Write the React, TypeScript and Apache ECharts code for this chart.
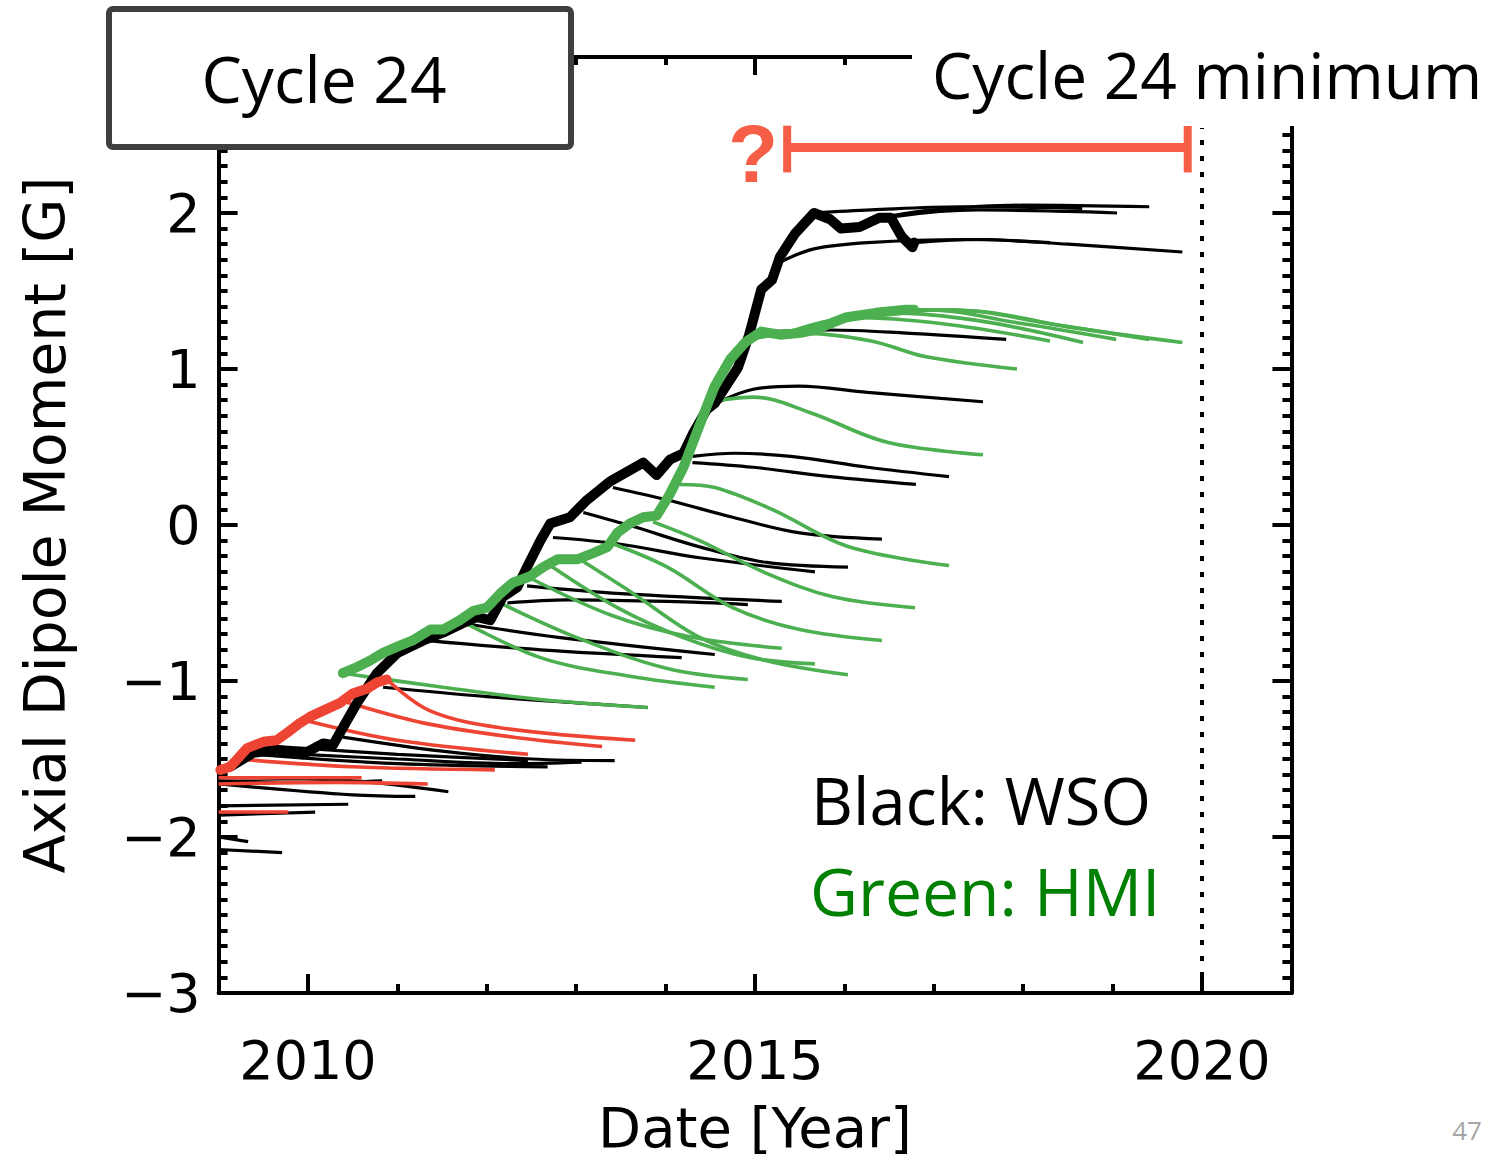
import { useEffect, useRef } from "react";
import * as echarts from "echarts";

// ---- axis ticks / labels ----
const X_MIN = 2009;
const X_MAX = 2021;
const Y_MIN = -3;
const Y_MAX = 3;
const xMajorTicks = [2010, 2015, 2020];
const xMinorTicks = [2010, 2011, 2012, 2013, 2014, 2015, 2016, 2017, 2018, 2019, 2020];

// ---- observed axial dipole moment (thick curves) ----
const wsoObserved: number[][] = [
  [2009.13, -1.55], [2009.39, -1.46], [2009.65, -1.44], [2009.94, -1.47], [2010.17, -1.40],
  [2010.28, -1.41], [2010.39, -1.30], [2010.55, -1.14], [2010.77, -0.95], [2011.0, -0.82],
  [2011.29, -0.74], [2011.51, -0.69], [2011.73, -0.63], [2011.89, -0.59], [2012.04, -0.61],
  [2012.18, -0.46], [2012.34, -0.4], [2012.45, -0.27], [2012.6, -0.1], [2012.71, 0.01],
  [2012.93, 0.05], [2013.12, 0.16], [2013.38, 0.28], [2013.75, 0.4], [2013.9, 0.32],
  [2014.05, 0.42], [2014.2, 0.46], [2014.31, 0.59], [2014.46, 0.74], [2014.55, 0.78],
  [2014.81, 1.01], [2014.93, 1.21], [2015.07, 1.51], [2015.19, 1.57], [2015.28, 1.72],
  [2015.45, 1.87], [2015.66, 2.0], [2015.84, 1.96], [2015.96, 1.9], [2016.17, 1.91],
  [2016.39, 1.97], [2016.52, 1.97], [2016.64, 1.85], [2016.76, 1.78], [2016.78, 1.81],
];
const hmiObserved: number[][] = [
  [2010.39, -0.95], [2010.55, -0.91], [2010.69, -0.87], [2010.84, -0.82], [2011.0, -0.78],
  [2011.17, -0.74], [2011.37, -0.67], [2011.51, -0.67], [2011.7, -0.61], [2011.85, -0.55],
  [2012.0, -0.53], [2012.15, -0.44], [2012.29, -0.37], [2012.48, -0.33], [2012.63, -0.27],
  [2012.79, -0.22], [2013.01, -0.22], [2013.19, -0.18], [2013.35, -0.14], [2013.46, -0.05],
  [2013.6, 0.01], [2013.75, 0.05], [2013.9, 0.06], [2014.04, 0.19], [2014.2, 0.37],
  [2014.34, 0.58], [2014.46, 0.76], [2014.55, 0.89], [2014.72, 1.06], [2014.89, 1.17],
  [2015.07, 1.24], [2015.28, 1.22], [2015.49, 1.23], [2015.66, 1.25], [2016.01, 1.33],
  [2016.35, 1.36], [2016.69, 1.38], [2016.78, 1.38],
];
const mdiObserved: number[][] = [
  [2009.02, -1.57], [2009.13, -1.55], [2009.32, -1.43], [2009.5, -1.39], [2009.65, -1.38],
  [2009.77, -1.33], [2009.91, -1.27], [2010.02, -1.23], [2010.17, -1.19], [2010.36, -1.14],
  [2010.5, -1.08], [2010.66, -1.05], [2010.77, -1.01], [2010.88, -0.99],
];

// ---- forecasts (thin curves) ----
const wsoForecasts: number[][][] = [
  [[2016.41, 1.97], [2017.0, 2.02], [2018.0, 2.05], [2019.41, 2.04]],
  [[2016.05, 1.9], [2016.6, 1.98], [2017.5, 2.02], [2018.5, 2.01], [2019.05, 2.0]],
  [[2015.66, 2.0], [2016.3, 2.02], [2017.3, 2.04], [2018.66, 2.03]],
  [[2015.3, 1.69], [2015.66, 1.77], [2016.26, 1.81], [2017.34, 1.83], [2018.3, 1.81]],
  [[2016.78, 1.81], [2017.5, 1.83], [2018.5, 1.8], [2019.78, 1.75]],
  [[2014.89, 1.17], [2015.2, 1.24], [2015.84, 1.25], [2016.69, 1.23], [2017.81, 1.19]],
  [[2014.6, 0.79], [2014.98, 0.87], [2015.49, 0.89], [2016.26, 0.85], [2017.55, 0.79]],
  [[2014.3, 0.44], [2014.77, 0.46], [2015.4, 0.44], [2016.26, 0.37], [2017.17, 0.31]],
  [[2014.3, 0.4], [2014.98, 0.37], [2015.84, 0.31], [2016.8, 0.26]],
  [[2013.41, 0.24], [2014.02, 0.16], [2014.75, 0.05], [2015.5, -0.05], [2016.42, -0.09]],
  [[2013.08, 0.08], [2013.64, -0.01], [2014.38, -0.14], [2015.13, -0.24], [2016.04, -0.27]],
  [[2012.74, -0.08], [2013.46, -0.12], [2014.38, -0.21], [2015.67, -0.3]],
  [[2012.45, -0.39], [2013.5, -0.44], [2015.3, -0.49]],
  [[2012.23, -0.5], [2012.9, -0.48], [2014.02, -0.49], [2014.92, -0.51]],
  [[2011.73, -0.63], [2012.8, -0.72], [2014.55, -0.83]],
  [[2011.29, -0.74], [2012.6, -0.8], [2014.18, -0.85]],
  [[2010.84, -1.04], [2012.0, -1.1], [2013.0, -1.14], [2013.8, -1.17]],
  [[2010.39, -1.36], [2011.5, -1.45], [2012.5, -1.5], [2013.43, -1.51]],
  [[2009.94, -1.47], [2011.0, -1.5], [2012.3, -1.53], [2013.06, -1.52]],
  [[2009.4, -1.47], [2011.0, -1.53], [2012.68, -1.55]],
  [[2009.65, -1.42], [2011.0, -1.47], [2012.46, -1.51]],
  [[2009.0, -1.62], [2010.5, -1.64], [2011.57, -1.71]],
  [[2009.0, -1.66], [2010.5, -1.73], [2011.2, -1.74]],
  [[2009.0, -1.64], [2010.2, -1.65], [2010.83, -1.64]],
  [[2009.0, -1.8], [2010.45, -1.79]],
  [[2009.0, -1.86], [2010.08, -1.84]],
  [[2009.0, -2.0], [2009.33, -2.03]],
  [[2009.0, -2.08], [2009.71, -2.1]],
];
const hmiForecasts: number[][][] = [
  [[2016.78, 1.38], [2017.5, 1.37], [2018.5, 1.27], [2019.78, 1.17]],
  [[2016.41, 1.36], [2017.2, 1.38], [2018.3, 1.29], [2019.41, 1.19]],
  [[2016.04, 1.33], [2016.9, 1.38], [2018.0, 1.29], [2019.04, 1.19]],
  [[2015.67, 1.25], [2016.5, 1.36], [2017.5, 1.31], [2018.67, 1.17]],
  [[2015.3, 1.22], [2016.1, 1.33], [2017.1, 1.29], [2018.3, 1.18]],
  [[2014.93, 1.19], [2015.5, 1.23], [2016.3, 1.18], [2016.9, 1.08], [2017.93, 1.0]],
  [[2014.6, 0.8], [2014.98, 0.82], [2015.62, 0.72], [2016.48, 0.53], [2017.55, 0.45]],
  [[2014.16, 0.26], [2014.55, 0.24], [2015.19, 0.1], [2016.05, -0.14], [2017.17, -0.26]],
  [[2013.86, 0.02], [2014.38, -0.1], [2015.13, -0.31], [2015.87, -0.46], [2016.79, -0.53]],
  [[2013.41, -0.12], [2014.02, -0.27], [2014.75, -0.53], [2015.5, -0.67], [2016.42, -0.74]],
  [[2013.04, -0.22], [2013.64, -0.44], [2014.38, -0.72], [2015.13, -0.87], [2016.04, -0.96]],
  [[2012.71, -0.26], [2013.46, -0.53], [2014.19, -0.72], [2014.94, -0.85], [2015.67, -0.89]],
  [[2012.45, -0.33], [2013.4, -0.58], [2014.3, -0.72], [2015.3, -0.79]],
  [[2012.08, -0.48], [2013.0, -0.72], [2014.02, -0.92], [2014.92, -0.99]],
  [[2011.7, -0.61], [2012.6, -0.85], [2013.6, -0.97], [2014.55, -1.04]],
  [[2010.39, -0.95], [2011.51, -1.04], [2012.63, -1.12], [2013.8, -1.17]],
];
const mdiForecasts: number[][][] = [
  [[2010.88, -0.99], [2011.36, -1.19], [2012.15, -1.3], [2013.66, -1.38]],
  [[2010.4, -1.13], [2011.3, -1.27], [2012.3, -1.36], [2013.29, -1.42]],
  [[2009.95, -1.25], [2011.0, -1.38], [2012.46, -1.47]],
  [[2009.2, -1.5], [2010.5, -1.55], [2012.09, -1.57]],
  [[2009.0, -1.66], [2010.3, -1.65], [2011.34, -1.66]],
  [[2009.0, -1.62], [2010.6, -1.62]],
  [[2009.0, -1.84], [2009.78, -1.84]],
];

// ---- annotations in data units ----
const cycleMinimumLine: number[][] = [[2020.0, -3], [2020.0, 2.545]];
const uncertaintyBar: number[][] = [[2015.36, 2.42], [2019.84, 2.42]];
const uncertaintyCapLeft: number[][] = [[2015.36, 2.26], [2015.36, 2.56]];
const uncertaintyCapRight: number[][] = [[2019.84, 2.26], [2019.84, 2.56]];

const BLACK = "#000000";
const GREEN = "#4caf50";
const RED = "#ee4433";
const CORAL = "#f65e48";
const AXIS_FONT = "DejaVu Sans";
const SLIDE_FONT = "Open Sans";

function minusFmt(v: number) {
  if (v < 0) return "\u2212" + Math.abs(v);
  return String(v);
}

export default function App() {
  const ref = useRef<HTMLDivElement>(null);
  useEffect(() => {
    if (!ref.current) return;
    const chart = echarts.init(ref.current, undefined, { renderer: "svg" });

    const axisLine = { show: true, onZero: false, lineStyle: { color: BLACK, width: 4 } };
    const baseX = { type: "value", min: X_MIN, max: X_MAX, splitLine: { show: false } };
    const baseY = { type: "value", min: Y_MIN, max: Y_MAX, interval: 1, splitLine: { show: false } };

    const thin = (data: number[][], color: string, width: number, z: number) => ({
      type: "line", data, smooth: 0.35, showSymbol: false, silent: true, z,
      lineStyle: { color, width, cap: "butt" },
    });
    const thick = (data: number[][], color: string, width: number, z: number) => ({
      type: "line", data, smooth: false, showSymbol: false, silent: true, z,
      lineStyle: { color, width, join: "round", cap: "round" },
    });

    const series: any[] = [];
    wsoForecasts.forEach((d) => series.push(thin(d, BLACK, 3.2, 2)));
    hmiForecasts.forEach((d) => series.push(thin(d, GREEN, 3.6, 3)));
    mdiForecasts.forEach((d) => series.push(thin(d, RED, 3.6, 3)));
    series.push(thick(wsoObserved, BLACK, 10, 5));
    series.push(thick(hmiObserved, GREEN, 10, 6));
    series.push(thick(mdiObserved, RED, 10, 7));
    series.push({
      type: "line", data: cycleMinimumLine, showSymbol: false, silent: true, z: 4,
      lineStyle: { color: BLACK, width: 4, type: [5, 11] },
    });
    series.push({ type: "line", data: uncertaintyBar, showSymbol: false, silent: true, z: 8, lineStyle: { color: CORAL, width: 9, cap: "butt" } });
    series.push({ type: "line", data: uncertaintyCapLeft, showSymbol: false, silent: true, z: 8, lineStyle: { color: CORAL, width: 8, cap: "butt" } });
    series.push({ type: "line", data: uncertaintyCapRight, showSymbol: false, silent: true, z: 8, lineStyle: { color: CORAL, width: 8, cap: "butt" } });

    chart.setOption({
      animation: false,
      backgroundColor: "#ffffff",
      grid: { left: 218.6, right: 214.6, top: 57, bottom: 174, containLabel: false },
      xAxis: [
        {
          ...baseX, position: "bottom", interval: 1,
          axisLine,
          axisTick: { show: true, inside: true, length: 9, lineStyle: { color: BLACK, width: 4 } },
          axisLabel: {
            show: true, margin: 40, color: BLACK, fontFamily: AXIS_FONT, fontSize: 54,
            formatter: (v: number) => (Math.round(v) % 5 === 0 && v > X_MIN && v < X_MAX ? String(v) : ""),
          },
          name: "Date [Year]", nameLocation: "middle", nameGap: 106,
          nameTextStyle: { color: BLACK, fontFamily: AXIS_FONT, fontSize: 56 },
        },
        {
          ...baseX, position: "bottom",
          axisLine: { show: false, onZero: false },
          axisTick: { show: true, inside: true, length: 19, customValues: xMajorTicks, lineStyle: { color: BLACK, width: 4 } },
          axisLabel: { show: false },
        },
        {
          ...baseX, position: "top",
          axisLine,
          axisTick: { show: true, inside: true, length: 8, customValues: xMinorTicks, lineStyle: { color: BLACK, width: 4 } },
          axisLabel: { show: false },
        },
        {
          ...baseX, position: "top",
          axisLine: { show: false, onZero: false },
          axisTick: { show: true, inside: true, length: 18, customValues: xMajorTicks, lineStyle: { color: BLACK, width: 4 } },
          axisLabel: { show: false },
        },
      ],
      yAxis: [
        {
          ...baseY, position: "left",
          axisLine,
          axisTick: { show: true, inside: true, length: 19, lineStyle: { color: BLACK, width: 4 } },
          minorTick: { show: true, splitNumber: 10, length: 9, lineStyle: { color: BLACK, width: 4 } },
          axisLabel: { show: true, margin: 18, color: BLACK, fontFamily: AXIS_FONT, fontSize: 54, formatter: minusFmt },
          name: "Axial Dipole Moment [G]", nameLocation: "middle", nameGap: 145, nameRotate: 90,
          nameTextStyle: { color: BLACK, fontFamily: AXIS_FONT, fontSize: 57 },
        },
        {
          ...baseY, position: "right",
          axisLine,
          axisTick: { show: true, inside: true, length: 19, lineStyle: { color: BLACK, width: 4 } },
          minorTick: { show: true, splitNumber: 10, length: 9, lineStyle: { color: BLACK, width: 4 } },
          axisLabel: { show: false },
        },
      ],
      series,
      graphic: [
        { type: "rect", z: 100, shape: { x: 912, y: 0, width: 594, height: 126 }, style: { fill: "#ffffff" } },
        {
          type: "rect", z: 101, shape: { x: 109, y: 9, width: 462, height: 138, r: 4 },
          style: { fill: "#ffffff", stroke: "#3f3f3f", lineWidth: 6 },
        },
        {
          type: "text", z: 102, x: 324, y: 78,
          style: { text: "Cycle 24", fill: "#000000", fontFamily: SLIDE_FONT, fontSize: 64, textAlign: "center", textVerticalAlign: "middle", align: "center", verticalAlign: "middle" },
        },
        {
          type: "text", z: 102, x: 932, y: 74,
          style: { text: "Cycle 24 minimum", fill: "#000000", fontFamily: SLIDE_FONT, fontSize: 64, textAlign: "left", textVerticalAlign: "middle", align: "left", verticalAlign: "middle" },
        },
        {
          type: "text", z: 102, x: 811, y: 800,
          style: { text: "Black: WSO", fill: "#000000", fontFamily: SLIDE_FONT, fontSize: 65, textAlign: "left", textVerticalAlign: "middle", align: "left", verticalAlign: "middle" },
        },
        {
          type: "text", z: 102, x: 810, y: 890,
          style: { text: "Green: HMI", fill: "#008000", fontFamily: SLIDE_FONT, fontSize: 66, textAlign: "left", textVerticalAlign: "middle", align: "left", verticalAlign: "middle" },
        },
        {
          type: "text", z: 102, x: 753, y: 153,
          style: { text: "?", fill: CORAL, fontFamily: "Liberation Sans", fontWeight: "bold", fontSize: 82, textAlign: "center", textVerticalAlign: "middle", align: "center", verticalAlign: "middle" },
        },
        {
          type: "text", z: 102, x: 1467, y: 1130,
          style: { text: "47", fill: "#a6a6a6", fontFamily: SLIDE_FONT, fontSize: 26, textAlign: "center", textVerticalAlign: "middle", align: "center", verticalAlign: "middle" },
        },
      ],
    });
    return () => chart.dispose();
  }, []);

  return <div ref={ref} style={{ position: "absolute", left: 0, top: 0, width: 1506, height: 1167, background: "#fff" }} />;
}
